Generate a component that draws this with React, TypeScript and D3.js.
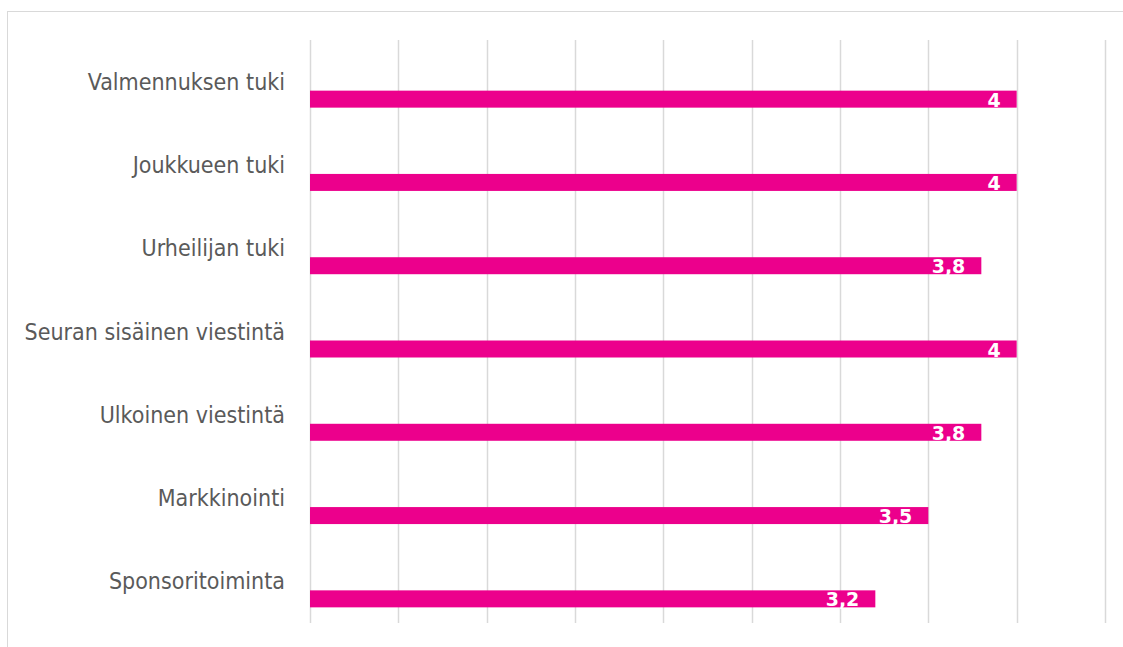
import React from "react";
import * as d3 from "d3";

const categories = [
  "Valmennuksen tuki",
  "Joukkueen tuki",
  "Urheilijan tuki",
  "Seuran sisäinen viestintä",
  "Ulkoinen viestintä",
  "Markkinointi",
  "Sponsoritoiminta",
];
const values = [4, 4, 3.8, 4, 3.8, 3.5, 3.2];
const ticks = [0, 0.5, 1, 1.5, 2, 2.5, 3, 3.5, 4, 4.5];

const W = 1123;
const H = 647;
const plotLeft = 310;
const plotRight = 1105;
const plotTop = 40;
const plotBottom = 623;

export default function App() {
  const x = d3.scaleLinear().domain([0, 4.5]).range([plotLeft, plotRight]);
  const y = d3.scaleBand<string>().domain(categories).range([plotTop, plotBottom]);
  const fmt = (v: number) => String(v).replace(".", ",");
  return (
    <svg
      width={W}
      height={H}
      style={{ position: "absolute", left: 0, top: 0, background: "#fff" }}
      fontFamily="'DejaVu Sans', Verdana, sans-serif"
    >
      <rect x={7.5} y={11.5} width={W + 10} height={H + 10} fill="none" stroke="#d9d9d9" strokeWidth={1} />
      {ticks.map((t) => (
        <line
          key={t}
          x1={Math.round(x(t)) + 0.5}
          x2={Math.round(x(t)) + 0.5}
          y1={plotTop}
          y2={plotBottom}
          stroke="#d9d9d9"
          strokeWidth={1.5}
        />
      ))}
      {categories.map((c, i) => {
        const b = y(c)!;
        const bw = y.bandwidth();
        const cy = b + bw / 2;
        const barTop = cy + 9;
        const barH = 17;
        return (
          <g key={c}>
            <text
              x={285}
              y={cy}
              textAnchor="end"
              dominantBaseline="central"
              fontSize={23}
              fontFamily="'DejaVu Sans Condensed', 'DejaVu Sans', sans-serif"
              style={{ fontStretch: "condensed" }}
              fill="#5a5a5a"
            >
              {c}
            </text>
            <rect x={x(0)} y={barTop} width={x(values[i]) - x(0)} height={barH} fill="#ec008c" />
            <text
              x={x(values[i]) - 16}
              y={barTop + barH - 1}
              textAnchor="end"
              fontSize={19}
              fontWeight="bold"
              fill="#fff"
            >
              {fmt(values[i])}
            </text>
          </g>
        );
      })}
    </svg>
  );
}
